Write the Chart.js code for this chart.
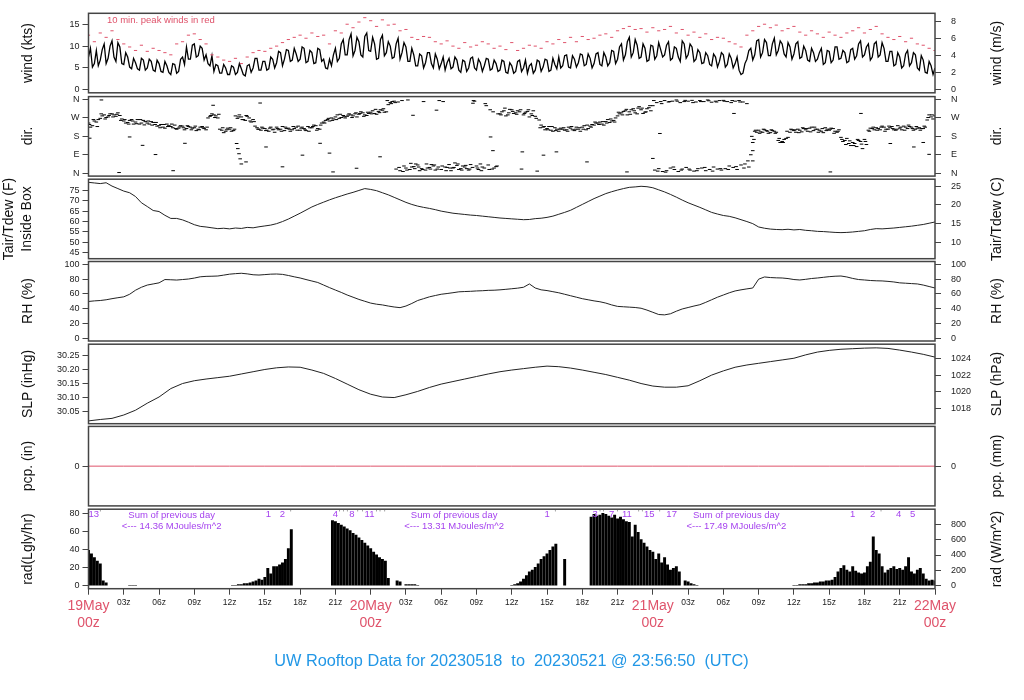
<!DOCTYPE html>
<html>
<head>
<meta charset="utf-8">
<title>UW Rooftop Data</title>
<script src="https://cdn.jsdelivr.net/npm/chart.js@4.4.1/dist/chart.umd.min.js"></script>
<style>
  html, body { margin: 0; padding: 0; background: #fff; }
  body { position: relative; width: 1024px; height: 700px; overflow: hidden;
         font-family: "Liberation Sans", Arial, Helvetica, sans-serif; }
  canvas { position: absolute; left: 0; }
  .axt { position: absolute; white-space: pre; font-size: 14px; color: #111; line-height: 18px;
         text-align: center; transform: translate(-50%, -50%) rotate(-90deg); }
  .note { position: absolute; white-space: pre; }
</style>
</head>
<body>
<script>
// ---- data (x = hours after 19May 00z) ----
// wind speed, kts, every 20 min (A) and the readings 10 min later (B)
const windA = [
  7.5,5.2,9.0, 6.8,10.5,7.2, 11.2,6.5,9.8, 5.8,7.5,4.8, 6.2,4.5,6.8, 5.0,6.5,4.2, 6.0,4.0,5.5, 3.5,5.8,4.2, 7.5,9.8,7.0, 10.5,7.8,9.5,
  8.0,5.5,4.2, 5.5,3.8,5.0, 3.5,5.2,4.0, 4.8,3.2,5.8, 5.0,7.2,4.5, 6.5,4.8,7.0, 6.2,8.5,7.0, 9.0,6.8,8.2, 7.0,9.5,6.5, 8.5,6.2,9.2,
  7.0,4.8,5.5, 9.5,7.2,11.5, 8.0,12.8,9.0, 11.0,7.5,13.0, 8.8,10.5,7.2, 12.5,8.5,10.0, 7.5,11.8,8.5, 9.8,6.5,8.0, 5.5,7.8,6.2, 8.5,5.0,7.0,
  6.0,4.5,7.2, 5.2,6.8,4.0, 6.5,5.0,7.5, 4.5,6.2,5.5, 7.0,4.8,6.0, 4.5,6.5,3.8, 5.5,4.2,6.8, 5.0,3.8,6.0, 4.5,6.5,5.2, 6.8,4.5,5.8,
  7.5,5.5,8.0, 5.0,7.0,6.2, 8.0,5.8,7.2, 6.0,8.5,5.5, 7.5,6.2,8.8, 7.0,10.5,8.0, 12.0,8.5,10.2, 7.5,9.5,6.8, 10.0,7.8,9.2, 8.0,11.0,7.2,
  9.5,6.5,10.5, 8.0,9.8,7.0, 8.5,6.2,7.8, 5.5,7.5,6.5, 8.0,5.8,7.2, 6.0,4.5,3.8, 7.0,9.5,8.0, 11.5,8.5,10.8, 7.8,11.8,9.0, 10.5,7.5,9.8,
  8.2,11.0,7.5, 9.0,6.5,8.5, 7.0,9.5,6.2, 8.8,6.8,9.8, 7.2,8.5,6.5, 9.5,7.8,11.2, 8.0,10.5,7.5, 11.0,8.0,9.5, 6.5,8.8,5.8, 7.5,5.5,9.0,
  6.2,8.0,4.5, 6.8,3.8,5.5, 5.0
];
const windB = [
  9.5,6.0,5.5, 9.2,6.0,10.0, 7.5,10.8,6.0, 8.5,5.2,7.2, 4.8,7.2,4.5, 7.0,4.5,6.8, 4.2,6.5,4.0, 6.0,3.8,7.0, 5.8,7.0,10.2, 7.5,10.0,6.8,
  6.0,7.8,5.8, 3.8,5.8,3.5, 5.5,3.5,6.0, 3.5,5.5,4.0, 7.2,4.5,6.5, 4.5,7.5,5.0, 8.8,5.5,9.2, 6.5,9.5,6.5, 9.8,6.2,9.0, 6.0,9.5,6.5,
  5.0,7.0,8.0, 6.5,10.5,8.0, 11.5,7.8,12.0, 8.0,12.2,9.0, 12.0,7.0,11.5, 7.8,11.0,7.2, 10.5,7.0,10.8, 6.5,9.5,5.5, 8.2,5.0,8.5, 6.0,8.2,4.8,
  7.5,6.2,4.8, 7.5,4.5,6.8, 4.2,7.2,5.0, 7.0,4.2,7.2, 4.5,6.8,4.2, 6.8,4.0,6.2, 3.8,6.5,4.2, 6.8,5.5,3.8, 6.8,4.2,7.0, 4.2,7.2,4.8,
  5.0,7.8,5.2, 7.8,5.2,8.2, 5.5,8.2,5.0, 8.2,5.8,8.5, 5.5,9.0,6.0, 9.8,6.8,11.0, 7.5,11.5,7.2, 10.5,6.5,10.2, 7.0,10.8,7.5, 10.2,6.8,9.8,
  7.5,11.2,7.2, 10.5,6.5,9.2, 6.0,8.5,5.8, 8.2,5.2,8.5, 5.2,8.2,5.0, 7.5,3.5,6.0, 9.0,6.8,11.2, 7.5,11.5,7.8, 10.5,8.0,11.2, 8.2,10.8,7.0,
  10.5,7.2,10.0, 6.8,9.5,6.5, 8.5,5.8,9.0, 6.2,9.8,7.0, 9.0,6.2,9.2, 7.0,10.5,7.5, 9.8,6.8,10.5, 7.5,10.8,6.5, 8.8,5.5,8.5, 5.0,8.2,5.5,
  8.5,5.0,7.8, 4.0,6.5,3.5
];
// 10 min peak wind, kts, every 30 min
const peakKts = [
  12.5,11.0, 13.0,12.0, 13.5,11.5, 10.5,9.8, 9.0,10.2, 8.8,9.5, 9.0,8.5, 8.0,10.5, 11.0,12.5, 12.8,11.5,
  10.5,8.0, 7.5,6.8, 6.5,7.2, 6.0,7.5, 8.5,9.0, 8.8,9.5, 10.0,10.8, 11.5,12.0, 12.5,11.8, 13.0,12.2,
  12.5,10.5, 13.5,13.0, 15.0,14.2, 15.5,16.5, 15.8,14.5, 16.0,14.8, 15.0,13.5, 13.8,12.0, 11.5,12.2, 12.0,11.0,
  10.5,11.2, 10.0,9.5, 10.8,9.8, 10.2,11.0, 10.5,9.5, 10.0,9.2, 10.8,9.0, 9.5,10.2, 10.0,9.5, 11.0,10.5,
  11.5,10.8, 12.0,11.0, 12.2,11.5, 11.8,12.5, 12.8,12.0, 13.5,14.0, 14.5,13.8, 14.0,13.2, 14.2,13.5, 13.8,14.5,
  13.0,13.8, 12.5,13.2, 12.0,12.8, 11.5,12.0, 11.8,11.0, 10.5,9.8, 12.5,13.5, 14.5,15.0, 14.2,14.8, 13.5,14.0,
  14.5,13.2, 12.5,13.5, 12.8,12.0, 13.2,12.5, 12.0,13.0, 13.5,14.2, 13.0,13.8, 14.5,12.8, 12.0,11.5, 12.2,11.0,
  11.8,10.5, 10.2,9.5, 9.0
];
// wind direction, degrees, every 20 min (A), +10 min (B), +5 min (C)
const dirA = [
  245,232,250, 268,285,275, 290,278,282, 255,248,262, 250,240,258, 245,252,238, 232,225,240, 228,235,220, 230,218,225, 222,215,228,
  212,278,285, 270,210,205, 215,208,268, 275,258,270, 262,222,210, 218,205,212, 225,215,208, 220,212,225, 210,218,228, 222,232,215,
  250,262,270, 275,268,282, 278,285,290, 288,295,282, 298,292,302, 308,300,345, 352,348,355, 25,18,32, 40,22,15, 28,35,20,
  18,30,42, 25,38,22, 30,15,28, 35,45,25, 40,20,32, 290,305,285, 310,295,300, 285,302,290, 278,260,225, 218,210,222,
  205,215,212, 220,208,215, 225,212,230, 235,245,240, 252,248,258, 280,295,305, 300,315,290, 310,298,320, 330,345,350, 355,348,352,
  358,345,350, 352,356,348, 355,350,358, 347,352,355, 356,350,345, 352,355,348, 340,90,205, 210,200,208, 198,205,160, 155,170,200,
  208,215,202, 212,220,208, 215,205,222, 210,218,200, 175,160,145, 150,130,155, 165,210,218, 222,212,225, 215,228,210, 220,230,218,
  225,215,222, 218,260,275, 280
];
const dirB = [
  225,255,262, 280,272,290, 285,295,265, 245,258,240, 262,245,252, 240,248,230, 238,220,232, 222,215,232, 212,228,220, 208,225,218,
  270,290,280, 215,198,220, 205,280,285, 262,278,250, 230,215,220, 210,225,200, 212,228,218, 205,218,230, 225,208,222, 235,218,245,
  258,255,265, 285,272,270, 290,280,275, 300,285,292, 305,288,310, 298,335,350, 20,12,35, 358,30,45, 12,350,25, 42,15,355,
  350,28,12, 50,18,35, 22,42,352, 18,30,330, 310,25,290, 300,280,312, 292,305,20, 298,275,305, 10,235,212, 228,205,215,
  220,210,225, 212,225,205, 232,218,238, 245,250,235, 262,255,270, 290,302,285, 310,295,325, 292,315,305, 15,22,8, 12,25,18,
  8,20,28, 15,10,22, 25,12,18, 30,20,15, 22,35,28, 18,40,45, 30,150,200, 202,212,195, 208,200,150, 165,175,212,
  200,210,218, 205,225,215, 210,198,215, 220,205,212, 155,170,135, 145,160,120, 140,220,212, 218,230,215, 222,212,232, 212,225,228,
  210,220,218, 225,285,265
];
const dirC = [
  238,262,228, 290,265,282, 275,288,258, 262,240,255, 242,262,236, 255,235,248, 222,238,228, 240,218,226, 222,232,212, 230,212,222,
  225,282,272, 288,222,212, 222,215,275, 262,282,255, 252,215,225, 208,220,215, 218,205,225, 215,228,210, 220,212,205, 228,210,235,
  245,268,258, 262,288,276, 284,272,295, 292,278,298, 290,312,296, 315,355,340, 345,28,8, 15,48,22, 30,18,45, 20,40,30,
  35,12,25, 28,45,15, 38,20,355, 25,12,340, 18,300,35, 285,318,295, 302,288,310, 292,310,282, 268,222,228, 212,228,208,
  215,222,205, 228,215,222, 215,235,225, 250,238,252, 245,265,250, 298,285,312, 288,305,318, 318,300,330, 355,10,340, 5,350,30,
  352,15,356, 20,345,12, 350,28,354, 10,348,22, 352,18,355, 32,348,25, 60,180,210, 195,215,205, 212,195,170, 150,205,215,
  212,198,222, 218,202,225, 200,218,208, 215,195,205, 165,140,158, 135,165,142, 155,205,225, 210,225,205, 230,218,215, 225,210,235,
  218,228,210, 230,272,285
];
// scattered single direction readings
const dirOutHr  = [0.1,1.1,2.6,3.5,4.6,5.7,7.2,8.2,10.6,12.6,12.7,12.8,12.9,13.0,13.4,14.6,15.1,16.5,18.2,19.7,20.5,20.8,22.8,24.8,
                   27.6,29.6,32.7,34.2,34.4,36.9,38.7,39.8,42.4,45.8,48.0,48.6,54.9,56.5,56.5,56.6,63.1,65.7,68.2,70.2,71.0,71.5];
const dirOutDeg = [171,358,3,177,136,91,12,146,332,145,120,95,70,45,55,343,128,31,88,146,98,6,24,80,
                   283,308,342,177,110,104,88,104,55,6,72,194,292,60,110,165,6,292,145,128,150,92];
// air temperature, F, every 30 min
const tairF = [
  78.8,78.5,78.2,78.6,77.0,75.8,74.6,73.8,72.0,69.0, 67.2,65.3,64.8,63.0,61.5,61.5,60.8,59.7,58.5,57.7,
  57.4,57.0,56.6,56.8,56.5,56.9,56.7,57.2,57.0,57.5, 57.9,58.3,59.0,60.0,61.2,62.6,64.0,65.5,67.0,68.2,
  69.3,70.4,71.4,72.3,73.2,74.0,74.9,75.8,75.4,74.8, 73.8,72.8,71.6,70.4,69.2,68.2,67.4,66.8,66.3,65.7,
  65.0,64.5,64.0,63.7,63.4,63.1,62.9,62.6,62.3,62.0, 61.7,61.5,61.3,61.1,60.9,61.0,61.4,61.6,62.0,62.6,
  63.5,64.4,65.4,66.8,68.2,69.6,71.0,72.2,73.4,74.3, 75.1,75.8,76.4,76.6,76.9,76.7,76.2,75.2,74.2,73.0,
  71.7,70.3,69.0,67.9,66.8,65.6,64.4,63.6,62.9,62.5, 61.8,60.9,60.0,59.0,57.4,56.8,56.4,56.2,56.1,56.3,
  56.0,56.2,55.8,55.6,55.3,55.2,55.0,54.8,54.7,54.8, 55.0,55.3,55.6,56.2,56.6,56.5,56.7,56.9,57.2,57.5,
  57.8,58.2,58.6,59.2,59.8
];
// relative humidity, %, every 30 min
const rhPct = [
  49.7,50.5,51.0,52.0,53.5,54.8,56.0,59.5,65.0,69.0, 72.0,73.5,75.0,79.5,79.2,78.8,79.5,80.2,81.5,83.2,
  83.8,84.0,84.3,85.5,86.8,87.5,88.0,87.2,86.0,85.6, 86.2,86.8,87.0,86.5,85.0,83.2,81.6,79.5,77.5,75.5,
  72.0,68.5,65.2,62.0,58.5,55.5,52.5,50.0,47.5,46.0, 45.0,43.5,42.2,41.3,43.5,47.0,51.0,53.5,56.0,57.8,
  59.5,60.5,61.6,62.8,63.2,63.5,64.0,64.3,64.8,65.0, 65.5,66.2,67.0,67.8,69.0,73.5,68.0,65.5,64.5,63.0,
  61.5,59.5,57.5,55.5,53.5,52.0,50.5,49.3,47.5,45.0, 43.0,42.5,42.0,41.5,40.5,38.0,35.0,32.0,31.5,33.0,
  36.5,39.5,41.5,43.5,45.3,48.5,52.0,55.5,58.5,61.5, 64.0,65.5,66.8,68.0,80.0,83.0,82.2,81.8,81.6,80.8,
  79.5,78.9,79.8,80.9,81.6,82.5,83.4,84.0,84.3,83.0, 81.0,79.5,78.9,78.2,77.8,77.6,77.0,76.2,75.0,74.5,
  74.0,73.5,72.0,70.0,68.0
];
// sea level pressure, inHg, hourly
const slpInHg = [
  30.017,30.022,30.026,30.038,30.055,30.080,30.102,30.132,30.150,30.160,30.166,30.171,30.176,30.184,30.192,30.200,30.206,30.209,
  30.208,30.198,30.186,30.168,30.148,30.128,30.112,30.102,30.100,30.110,30.122,30.136,30.148,30.157,30.166,30.175,30.184,30.192,
  30.198,30.203,30.208,30.212,30.210,30.205,30.198,30.190,30.182,30.172,30.162,30.150,30.141,30.137,30.137,30.142,30.160,30.180,
  30.195,30.208,30.216,30.222,30.228,30.234,30.240,30.252,30.262,30.268,30.272,30.274,30.276,30.277,30.275,30.269,30.262,30.254,
  30.244
];
// precipitation, in, every 3 h
const pcpIn = [0,0,0,0,0,0,0,0,0,0,0,0,0,0,0,0,0,0,0,0,0,0,0,0,0];
// solar radiation, Langley/hr, every 15 min (null = missing)
const radLy = [
  40,36,32,28, 25,6,4,0, 0,0,0,0, 0,0,1,1, 1,0,0,0, 0,0,0,0, 0,0,0,0, 0,0,0,0, 0,0,0,0, 0,0,0,0, 0,0,0,0, 0,0,0,0,
  0,1,1,2, 2,3,3,4, 5,6,8,7, 10,20,14,22, 22,24,26,30, 42,63,null,null, null,null,null,null, null,null,null,null,
  null,null,null,73, 72,70,68,66, 64,62,59,57, 54,51,48,45,
  42,38,35,32, 30,28,9,0, 0,6,5,0, 2,2,2,2, 1,0,0,0, 0,0,0,0, 0,0,0,0, 0,0,0,0, 0,0,0,0, 0,0,0,0, 0,0,0,0, 0,0,0,0,
  1,2,3,5, 8,12,16,18, 21,25,30,33, 36,40,44,47, null,null,30,null, null,null,null,null, null,null,null,77, 80,78,79,81,
  80,78,76,79, 75,77,74,72, 71,55,68,60, 52,48,44,40,
  38,30,36,26, 32,24,18,20, 22,16,0,6, 5,3,2,1, 0,0,0,0, 0,0,0,0, 0,0,0,0, 0,0,0,0, 0,0,0,0, 0,0,0,0, 0,0,0,0, 0,0,0,0,
  1,1,2,2, 2,3,3,4, 4,5,5,6, 6,7,10,16, 20,23,18,16, 22,17,15,14, 15,22,27,55, 40,36,22,15,
  18,20,22,19, 20,18,22,32, 16,14,18,20, 14,8,6,7, 6
];
// hourly marks printed along the top of the radiation panel
const radMarkHr  = [0.45, 15.3, 16.5, 21.0, 22.4, 23.9, 39.0, 43.1, 44.5, 45.8, 47.7, 49.6, 65.0, 66.7, 68.9, 70.1];
const radMarkTxt = ['13', '1', '2', '4', '8', '11', '1', '3', '7', '11', '15', '17', '1', '2', '4', '5'];
const radTickHr  = [1.0, 17.2, 21.35, 21.7, 22.0, 22.9, 23.3, 24.5, 24.8, 25.2, 39.7, 43.5, 43.8, 45.0, 46.8, 47.1, 48.6, 67.4];
const daySumHr   = [7.07, 31.1, 55.1];
const daySumMJ   = ['14.36', '13.31', '17.49'];

const hourTicks = [0,3,6,9,12,15,18,21,24,27,30,33,36,39,42,45,48,51,54,57,60,63,66,69,72];
const dayLabels = ['19May', '20May', '21May', '22May'];
const compass   = ['N', 'E', 'S', 'W', 'N'];
const leftTitles  = ['wind (kts)', 'dir.', 'Tair/Tdew (F)\nInside Box', 'RH (%)', 'SLP (inHg)', 'pcp. (in)', 'rad(Lgly/hr)'];
const rightTitles = ['wind (m/s)', 'dir.', 'Tair/Tdew (C)', 'RH (%)', 'SLP (hPa)', 'pcp. (mm)', 'rad (W/m^2)'];
const mainTitle = 'UW Rooftop Data for 20230518  to  20230521 @ 23:56:50  (UTC)';

// ---- layout ----
const PANEL_TOPS = [13.3, 96.6, 179.2, 261.5, 344.2, 426.4, 509.2];
const PANEL_H = 79.5;
const PLOT_L = 88.5, PLOT_R = 935;
const X_AXIS_H = 60;
const RED = '#DF536B', BLUE = '#2297E6', PURPLE = '#A542EE';
const FONT = '"Liberation Sans", Arial, Helvetica, sans-serif';

Chart.defaults.font.family = FONT;
Chart.defaults.font.size = 9;
Chart.defaults.color = '#222';

const pts = (arr, step, off) => arr.map((v, i) => ({ x: i * step + (off || 0), y: v }));

const boxPlugin = {
  id: 'box',
  afterDraw(chart) {
    const a = chart.chartArea, c = chart.ctx;
    c.save();
    c.strokeStyle = '#444';
    c.lineWidth = 1.5;
    c.strokeRect(a.left, a.top, a.right - a.left, a.bottom - a.top);
    c.restore();
  }
};

function yScale(pos, min, max, ticks, labels) {
  return {
    type: 'linear', position: pos, min: min, max: max,
    afterBuildTicks: s => { s.ticks = ticks.map(v => ({ value: v })); },
    afterFit: s => {
      s.width = pos === 'left' ? PLOT_L : 1024 - PLOT_R;
      s.paddingTop = 0; s.paddingBottom = 0;
    },
    grid: { drawOnChartArea: false, tickLength: 6, color: '#444' },
    border: { display: false },
    ticks: { padding: pos === 'left' ? 3 : 10, color: '#222', font: { size: 9 }, autoSkip: false,
             callback: (v, i) => labels ? labels[i] : v }
  };
}

const hiddenX = { type: 'linear', min: 0, max: 72, display: false };

function panel(i, type, datasets, yl, yr, xOpts, extra) {
  const cv = document.createElement('canvas');
  const top = PANEL_TOPS[i];
  const cTop = Math.floor(top) - 8;
  const padTop = top - cTop;
  const xH = xOpts ? X_AXIS_H : 0;
  const h = Math.ceil(padTop + PANEL_H + 8 + xH);
  cv.width = 1024; cv.height = h;
  cv.style.top = cTop + 'px';
  document.body.appendChild(cv);
  return new Chart(cv, {
    type: type,
    data: { datasets: datasets },
    options: {
      responsive: false, animation: false, events: [],
      layout: { padding: { top: padTop, bottom: h - padTop - PANEL_H - xH, left: 0, right: 0 } },
      plugins: { legend: { display: false }, tooltip: { enabled: false } },
      scales: { x: xOpts || hiddenX, y: yl, y2: yr }
    },
    plugins: [boxPlugin].concat(extra || [])
  });
}

const lineDs = (data, color, width) => ({ data: data, borderColor: color, borderWidth: width,
  pointRadius: 0, tension: 0, fill: false, spanGaps: false });
const dashDs = (data, color, r) => ({ data: data, showLine: false, pointStyle: 'line',
  pointRadius: r, borderColor: color, borderWidth: 1 });

// 1 wind: A and B readings interleaved into one trace
const windPts = [];
windA.forEach((v, i) => {
  windPts.push({ x: i / 3, y: v });
  if (i < windB.length) windPts.push({ x: i / 3 + 1 / 6, y: windB[i] });
});
const KT_MS = 1.94384;
panel(0, 'line', [
  dashDs(pts(peakKts, 0.5), RED, 1.6),
  lineDs(windPts, '#000', 1.3)
], yScale('left', -0.68, 17.5, [0, 5, 10, 15]),
   yScale('right', -0.68 / KT_MS, 17.5 / KT_MS, [0, 2, 4, 6, 8]));

// 2 direction
panel(1, 'line', [
  dashDs(pts(dirA, 1 / 3), '#000', 1.8),
  dashDs(pts(dirB, 1 / 3, 1 / 6), '#000', 1.8),
  dashDs(pts(dirC, 1 / 3, 1 / 12), '#000', 1.8),
  dashDs(dirOutHr.map((h, k) => ({ x: h, y: dirOutDeg[k] })), '#000', 1.8)
], yScale('left', -14.4, 374.4, [0, 90, 180, 270, 360], compass),
   yScale('right', -14.4, 374.4, [0, 90, 180, 270, 360], compass));

// 3 temperature
panel(2, 'line', [lineDs(pts(tairF, 0.5), '#222', 1)],
  yScale('left', 42.2, 80.3, [45, 50, 55, 60, 65, 70, 75]),
  yScale('right', (42.2 - 32) / 1.8, (80.3 - 32) / 1.8, [10, 15, 20, 25]));

// 4 RH
panel(3, 'line', [lineDs(pts(rhPct, 0.5), '#222', 1)],
  yScale('left', -4, 104, [0, 20, 40, 60, 80, 100]),
  yScale('right', -4, 104, [0, 20, 40, 60, 80, 100]));

// 5 pressure
const HPA = 33.8639;
panel(4, 'line', [lineDs(pts(slpInHg, 1), '#222', 1)],
  yScale('left', 30.007, 30.290, [30.05, 30.10, 30.15, 30.20, 30.25], ['30.05', '30.10', '30.15', '30.20', '30.25']),
  yScale('right', 30.007 * HPA, 30.290 * HPA, [1018, 1020, 1022, 1024]));

// 6 precipitation
panel(5, 'line', [lineDs(pts(pcpIn, 3), RED, 1)],
  yScale('left', -1, 1, [0]),
  yScale('right', -25.4, 25.4, [0]));

// 7 radiation
const W_LY = 11.622;
const radText = {
  id: 'radText',
  afterDatasetsDraw(chart) {
    const c = chart.ctx, xs = chart.scales.x, a = chart.chartArea;
    c.save();
    c.textBaseline = 'middle';
    c.textAlign = 'center';
    c.font = '9.5px ' + FONT;
    c.fillStyle = PURPLE;
    radMarkHr.forEach((h, k) => c.fillText(radMarkTxt[k], xs.getPixelForValue(h), a.top + 5.5));
    daySumHr.forEach((h, k) => {
      const x = xs.getPixelForValue(h);
      c.fillText('Sum of previous day', x, a.top + 6);
      c.fillText('<--- ' + daySumMJ[k] + ' MJoules/m^2', x, a.top + 17);
    });
    c.fillStyle = '#777';
    c.font = '8px ' + FONT;
    radTickHr.forEach(h => c.fillText("'", xs.getPixelForValue(h), a.top + 4));
    c.restore();
  }
};
const radX = {
  type: 'linear', min: 0, max: 72, offset: false,
  afterBuildTicks: s => { s.ticks = hourTicks.map(v => ({ value: v })); },
  afterFit: s => { s.height = X_AXIS_H; s.paddingLeft = 0; s.paddingRight = 0; },
  grid: { drawOnChartArea: false, tickLength: 6, color: '#444', offset: false },
  border: { display: false },
  ticks: {
    padding: 3, maxRotation: 0, autoSkip: false,
    font: c => ({ size: c.tick && c.tick.value % 24 === 0 ? 14 : 8.5 }),
    color: c => (c.tick && c.tick.value % 24 === 0 ? RED : '#222'),
    callback: v => v % 24 === 0 ? [dayLabels[v / 24], '00z'] : String(v % 24).padStart(2, '0') + 'z'
  }
};
panel(6, 'bar', [{
  data: pts(radLy, 0.25), backgroundColor: '#000', borderWidth: 0, inflateAmount: 0,
  barPercentage: 1, categoryPercentage: 1, grouped: false
}], yScale('left', -3, 85.3, [0, 20, 40, 60, 80]),
   yScale('right', -3 * W_LY, 85.3 * W_LY, [0, 200, 400, 600, 800]), radX, [radText]);

// ---- titles ----
function addDiv(cls, text, css) {
  const d = document.createElement('div');
  d.className = cls;
  d.textContent = text;
  Object.assign(d.style, css);
  document.body.appendChild(d);
  return d;
}
PANEL_TOPS.forEach((t, i) => {
  const cy = (t + PANEL_H / 2) + 'px';
  addDiv('axt', leftTitles[i], { left: (i === 2 ? 17 : 27) + 'px', top: cy });
  addDiv('axt', rightTitles[i], { left: '996px', top: cy });
});
addDiv('note', '10 min. peak winds in red', { left: '107px', top: '14px', fontSize: '9.5px', color: RED });
addDiv('note', mainTitle, { left: '511.5px', top: '660px', fontSize: '16.3px', color: BLUE,
  transform: 'translate(-50%, -50%)' });
</script>
</body>
</html>
